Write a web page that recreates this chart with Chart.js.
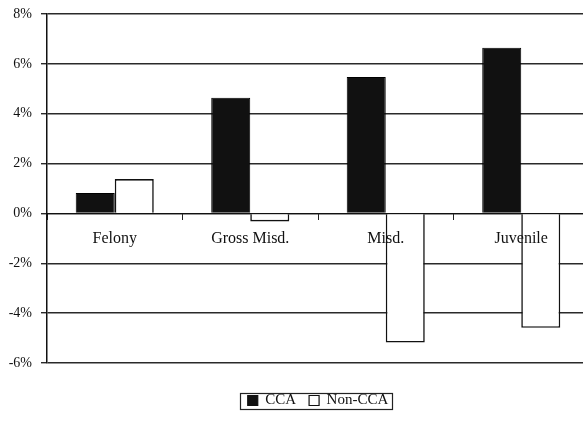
<!DOCTYPE html>
<html>
<head>
<meta charset="utf-8">
<script src="https://cdn.jsdelivr.net/npm/chart.js@4"></script>
<style>
html, body { margin: 0; padding: 0; width: 583px; height: 421px; overflow: hidden; background: #fff; }
#wrap { width: 592px; height: 421px; position: relative; }
</style>
</head>
<body>
<div id="wrap"><canvas id="c"></canvas></div>
<script>
const categories = ['Felony', 'Gross Misd.', 'Misd.', 'Juvenile'];
const ccaValues = [0.82, 4.64, 5.47, 6.65];
const nonCcaValues = [1.38, -0.32, -5.18, -4.59];
const yMin = -6, yMax = 8, yStep = 2;

const legendBorder = {
  id: 'legendBorder',
  afterDraw(chart) {
    const lg = chart.legend;
    if (!lg || !lg.legendHitBoxes || !lg.legendHitBoxes.length) return;
    const hb = lg.legendHitBoxes;
    let l = Infinity, r = -Infinity, t = Infinity, b = -Infinity;
    hb.forEach(h => { l = Math.min(l, h.left); r = Math.max(r, h.left + h.width); t = Math.min(t, h.top); b = Math.max(b, h.top + h.height); });
    const ctx = chart.ctx;
    ctx.save();
    ctx.strokeStyle = '#222';
    ctx.lineWidth = 1.2;
    const cy = (t + b) / 2;
    ctx.strokeRect(Math.round(l - 8) + 0.5, Math.round(cy - 8) + 0.5, Math.round(r - l + 11), 16);
    ctx.restore();
  }
};

new Chart(document.getElementById('c'), {
  type: 'bar',
  data: {
    labels: categories,
    datasets: [
      { label: 'CCA', data: ccaValues, backgroundColor: '#111', borderColor: '#000', borderWidth: 1 },
      { label: 'Non-CCA', data: nonCcaValues, backgroundColor: '#fff', borderColor: '#111', borderWidth: 1.6 }
    ]
  },
  options: {
    responsive: true,
    maintainAspectRatio: false,
    animation: false,
    devicePixelRatio: 1,
    layout: { padding: { top: 14, right: 3, left: 0, bottom: 3 } },
    datasets: { bar: { categoryPercentage: 0.576, barPercentage: 1 } },
    scales: {
      x: {
        axis: 'x',
        position: { y: 0 },
        offset: true,
        grid: { offset: true, drawOnChartArea: false, drawTicks: true, tickLength: 6, color: '#222', lineWidth: 1 },
        border: { display: true, color: '#111', width: 1 },
        ticks: { z: 1, color: '#111', padding: 10, maxRotation: 0, font: { family: 'Liberation Serif', size: 16 } }
      },
      y: {
        min: yMin, max: yMax,
        afterFit(scale) { scale.width = 47; scale.paddingTop = 0; scale.paddingBottom = 0; },
        grid: { color: '#2a2a2a', lineWidth: 1.4, tickLength: 6, drawTicks: true },
        border: { display: true, color: '#111', width: 1.5 },
        ticks: {
          stepSize: yStep, padding: 9, color: '#111',
          font: { family: 'Liberation Serif', size: 14 },
          callback: v => v + '%'
        }
      }
    },
    plugins: {
      legend: {
        position: 'bottom',
        fullSize: false,
        title: { display: true, text: ' ', font: { size: 10 }, padding: { top: 5, bottom: 0 } },
        labels: {
          color: '#111', boxWidth: 10, boxHeight: 10, padding: 13,
          font: { family: 'Liberation Serif', size: 15 },
          generateLabels(chart) {
            return chart.data.datasets.map((ds, i) => ({
              text: ds.label, fillStyle: ds.backgroundColor, strokeStyle: '#111', lineWidth: 1.2,
              datasetIndex: i, fontColor: '#111'
            }));
          }
        }
      },
      tooltip: { enabled: false }
    }
  },
  plugins: [legendBorder]
});
</script>
</body>
</html>
